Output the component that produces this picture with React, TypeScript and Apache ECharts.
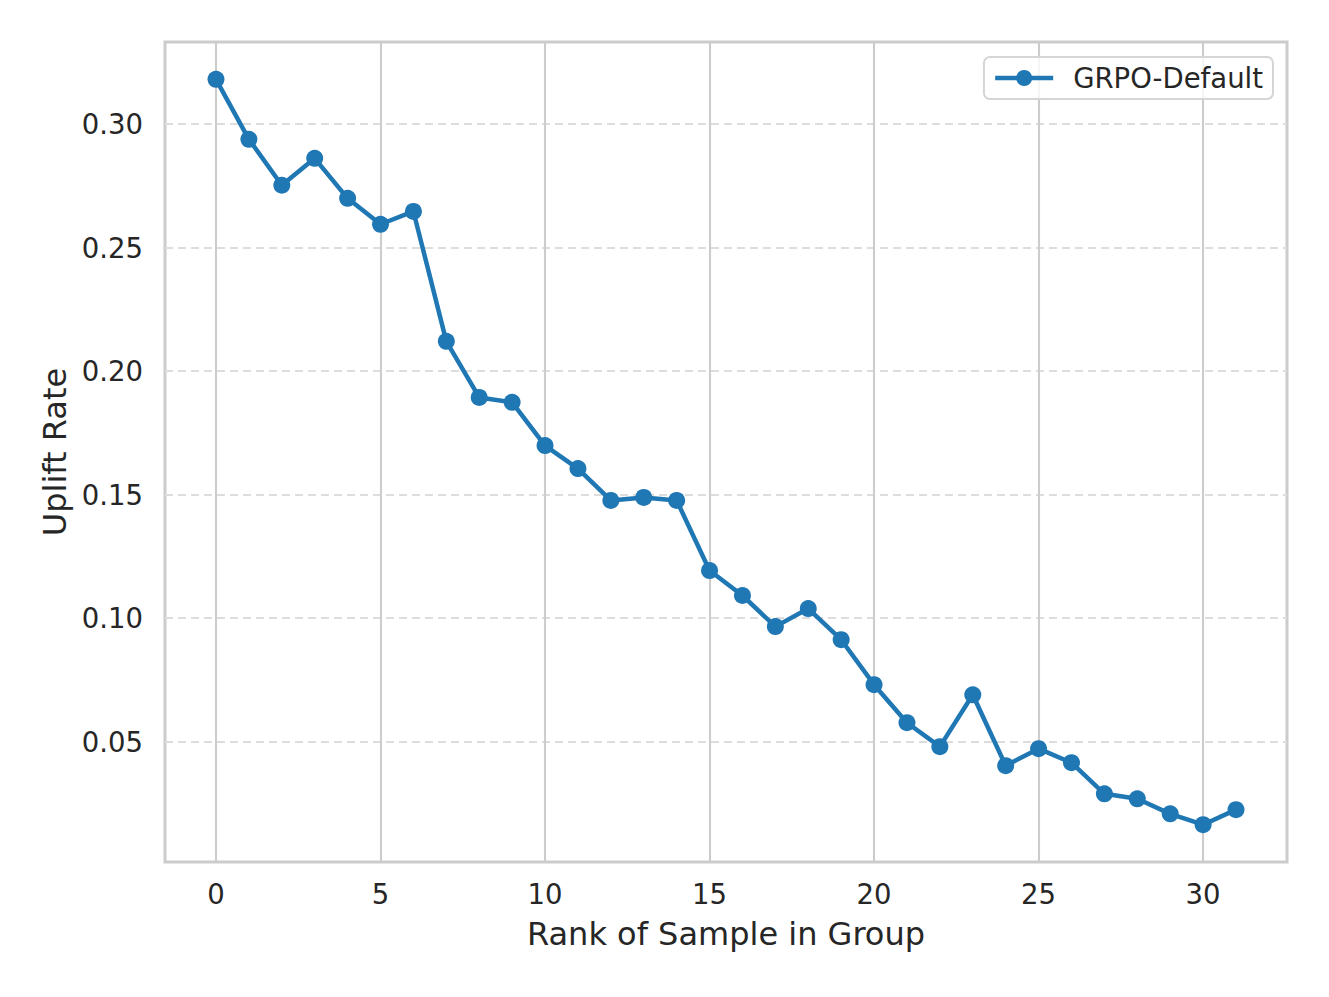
import React, { useEffect, useRef } from "react";
import * as echarts from "echarts";

const ranks: number[] = Array.from({ length: 32 }, (_, i) => i);
const upliftRate: number[] = [
  0.3182, 0.2939, 0.2753, 0.2862, 0.27, 0.2595, 0.2647, 0.2121, 0.1894, 0.1874,
  0.1699, 0.1606, 0.1477, 0.1489, 0.1477, 0.1193, 0.1092, 0.0966, 0.1039, 0.0913,
  0.0731, 0.0577, 0.048, 0.069, 0.0403, 0.0472, 0.0415, 0.0289, 0.0269, 0.0208,
  0.0164, 0.0225,
];
const xTicks: number[] = [0, 5, 10, 15, 20, 25, 30];
const yTicks: number[] = [0.05, 0.1, 0.15, 0.2, 0.25, 0.3];
const seriesName = "GRPO-Default";

const FONT = "DejaVu Sans";
const TEXT = "#262626";

export default function App() {
  const ref = useRef<HTMLDivElement>(null);
  useEffect(() => {
    if (!ref.current) return;
    const chart = echarts.init(ref.current, undefined, { renderer: "svg" });
    chart.setOption({
      animation: false,
      backgroundColor: "#ffffff",
      textStyle: { fontFamily: FONT },
      grid: {
        left: 165,
        top: 42,
        right: 42,
        bottom: 135,
        show: true,
        borderColor: "#cccccc",
        borderWidth: 3,
        backgroundColor: "transparent",
      },
      legend: {
        top: 57,
        right: 56,
        data: [seriesName],
        itemWidth: 58,
        itemHeight: 20,
        padding: [7, 10, 7, 9],
        borderColor: "#d5d5d5",
        borderWidth: 2,
        borderRadius: 6,
        backgroundColor: "rgba(255,255,255,0.8)",
        lineStyle: { width: 4.5, color: "#1f77b4" },
        itemStyle: { color: "#1f77b4" },
        textStyle: { fontSize: 27.5, color: TEXT, fontFamily: FONT, padding: [0, 0, 0, 15] },
      },
      xAxis: {
        type: "value",
        min: -1.55,
        max: 32.55,
        name: "Rank of Sample in Group",
        nameLocation: "middle",
        nameGap: 56,
        nameTextStyle: { fontSize: 32, color: TEXT, fontFamily: FONT },
        axisLine: { show: false },
        axisTick: { show: false, customValues: xTicks },
        axisLabel: { customValues: xTicks, fontSize: 27.5, color: TEXT, margin: 18, fontFamily: FONT },
        splitLine: { show: true, lineStyle: { color: "#cccccc", width: 2.1, type: "solid" } },
      },
      yAxis: {
        type: "value",
        min: 0.0013,
        max: 0.3333,
        name: "Uplift Rate",
        nameLocation: "middle",
        nameGap: 93,
        nameTextStyle: { fontSize: 32, color: TEXT, fontFamily: FONT },
        axisLine: { show: false },
        axisTick: { show: false, customValues: yTicks },
        axisLabel: {
          customValues: yTicks,
          fontSize: 27.5,
          color: TEXT,
          margin: 22,
          fontFamily: FONT,
          formatter: (v: number) => v.toFixed(2),
        },
        splitLine: { show: true, lineStyle: { color: "#dddddd", width: 2.1, type: [8, 5] } },
      },
      series: [
        {
          name: seriesName,
          type: "line",
          data: ranks.map((r, i) => [r, upliftRate[i]]),
          symbol: "circle",
          symbolSize: 17,
          itemStyle: { color: "#1f77b4" },
          lineStyle: { color: "#1f77b4", width: 4.5 },
        },
      ],
    });
    return () => chart.dispose();
  }, []);
  return (
    <div
      ref={ref}
      style={{ position: "fixed", left: 0, top: 0, width: 1329, height: 997 }}
    />
  );
}
